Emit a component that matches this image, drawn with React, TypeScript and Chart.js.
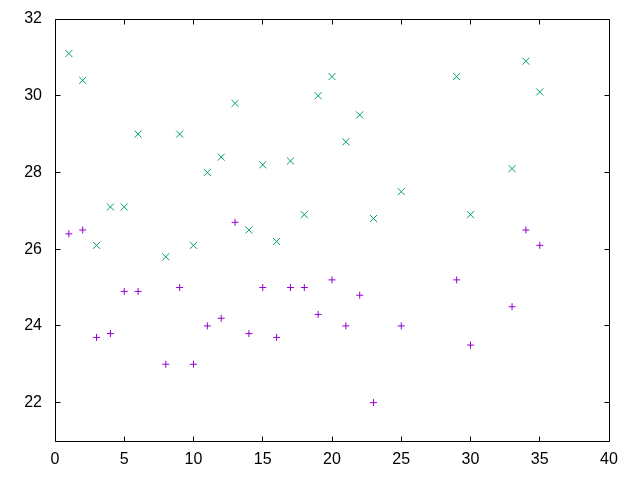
import React, { useEffect, useRef } from 'react';
import { Chart, registerables } from 'chart.js';

Chart.register(...registerables);

const xValues = [1, 2, 3, 4, 5, 6, 8, 9, 10, 11, 12, 13, 14, 15, 16, 17, 18, 19, 20, 21, 22, 23, 25, 29, 30, 33, 34, 35];
const plusValues = [26.4, 26.5, 23.7, 23.8, 24.9, 24.9, 23.0, 25.0, 23.0, 24.0, 24.2, 26.7, 23.8, 25.0, 23.7, 25.0, 25.0, 24.3, 25.2, 24.0, 24.8, 22.0, 24.0, 25.2, 23.5, 24.5, 26.5, 26.1];
const crossValues = [31.1, 30.4, 26.1, 27.1, 27.1, 29.0, 25.8, 29.0, 26.1, 28.0, 28.4, 29.8, 26.5, 28.2, 26.2, 28.3, 26.9, 30.0, 30.5, 28.8, 29.5, 26.8, 27.5, 30.5, 26.9, 28.1, 30.9, 30.1];
const xTicks = [0, 5, 10, 15, 20, 25, 30, 35, 40];
const yTicks = [22, 24, 26, 28, 30, 32];

const framePlugin = {
  id: 'frame',
  afterDraw(chart: any) {
    const { ctx, chartArea: a, scales } = chart;
    const xs = scales.x;
    const ys = scales.y;
    const L = Math.floor(a.left) + 0.5;
    const R = Math.floor(a.right) + 0.5;
    const T = Math.floor(a.top) + 0.5;
    const B = Math.floor(a.bottom) + 0.5;
    const tl = 5;
    ctx.save();
    ctx.strokeStyle = '#000';
    ctx.lineWidth = 1;
    ctx.beginPath();
    ctx.rect(L, T, R - L, B - T);
    xs.ticks.forEach((t: any) => {
      const px = Math.floor(xs.getPixelForValue(t.value)) + 0.5;
      ctx.moveTo(px, B);
      ctx.lineTo(px, B - tl);
      ctx.moveTo(px, T);
      ctx.lineTo(px, T + tl);
    });
    ys.ticks.forEach((t: any) => {
      const py = Math.floor(ys.getPixelForValue(t.value)) + 0.5;
      ctx.moveTo(L, py);
      ctx.lineTo(L + tl, py);
      ctx.moveTo(R, py);
      ctx.lineTo(R - tl, py);
    });
    ctx.stroke();
    ctx.restore();
  },
};

export default function App() {
  const ref = useRef<HTMLCanvasElement | null>(null);

  useEffect(() => {
    document.body.style.margin = '0';
    if (!ref.current) return;
    const font = { family: '"Liberation Sans", Arial, sans-serif', size: 16 };
    const chart = new Chart(ref.current, {
      type: 'scatter',
      data: {
        datasets: [
          {
            label: 'plus',
            data: xValues.map((x, i) => ({ x, y: plusValues[i] })),
            pointStyle: 'cross',
            pointRadius: 3.5,
            pointHoverRadius: 3.5,
            borderColor: '#9400d3',
            backgroundColor: '#9400d3',
            borderWidth: 1,
            showLine: false,
          },
          {
            label: 'cross',
            data: xValues.map((x, i) => ({ x, y: crossValues[i] })),
            pointStyle: 'crossRot',
            pointRadius: 5,
            pointHoverRadius: 5,
            borderColor: '#009e73',
            backgroundColor: '#009e73',
            borderWidth: 1,
            showLine: false,
          },
        ],
      },
      options: {
        animation: false,
        responsive: false,
        maintainAspectRatio: false,
        layout: { padding: { left: 0, right: 31, top: 19, bottom: 0 } },
        plugins: { legend: { display: false }, tooltip: { enabled: false } },
        scales: {
          x: {
            type: 'linear',
            min: 0,
            max: 40,
            grid: { display: false, drawTicks: false },
            border: { display: false },
            ticks: { font, color: '#000', padding: 9, maxRotation: 0 },
            afterBuildTicks: (s: any) => {
              s.ticks = xTicks.map((v) => ({ value: v }));
            },
            afterFit: (s: any) => {
              s.height = 39;
              s.paddingLeft = 0;
              s.paddingRight = 0;
            },
          },
          y: {
            type: 'linear',
            min: 21,
            max: 32,
            grid: { display: false, drawTicks: false },
            border: { display: false },
            ticks: { font, color: '#000', padding: 13 },
            afterBuildTicks: (s: any) => {
              s.ticks = yTicks.map((v) => ({ value: v }));
            },
            afterFit: (s: any) => {
              s.width = 55;
              s.paddingTop = 0;
              s.paddingBottom = 0;
            },
          },
        },
      },
      plugins: [framePlugin],
    });
    return () => chart.destroy();
  }, []);

  return (
    <div style={{ width: 640, height: 480, background: '#fff' }}>
      <canvas ref={ref} width={640} height={480} style={{ display: 'block' }} />
    </div>
  );
}
